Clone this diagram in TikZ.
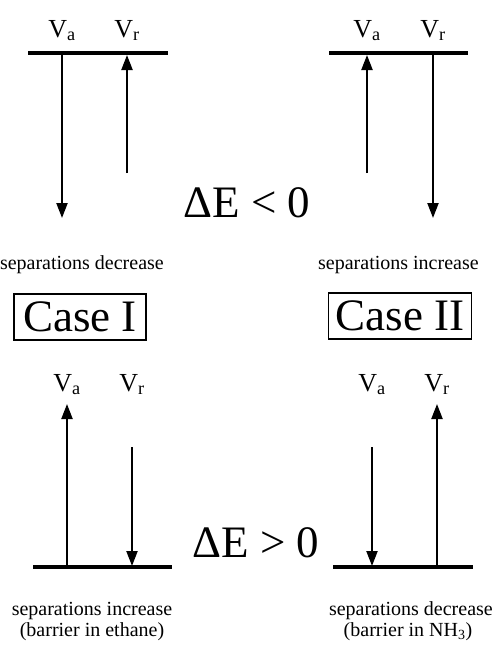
\documentclass[tikz,border=0pt]{standalone}
\usepackage{fontspec}
\setmainfont{Liberation Serif}
\usetikzlibrary{arrows.meta}

\begin{document}
\begin{tikzpicture}[
    x=1pt, y=-1pt,
    level/.style    = {line width=3.4pt},
    force/.style    = {-{Triangle[length=15pt,width=11pt]}, line width=2.2pt},
    potlabel/.style = {font=\fontsize{26}{28}\selectfont, inner sep=0pt, anchor=base},
    energy/.style   = {font=\fontsize{45}{46}\selectfont, inner sep=0pt, anchor=base},
    casebox/.style  = {draw, line width=1.4pt, font=\fontsize{45}{46}\selectfont,
                       inner sep=0pt, minimum height=46pt},
    remark/.style   = {font=\fontsize{20}{20}\selectfont, inner sep=0pt}
]
\useasboundingbox (0,0) rectangle (494,645);

% Top left (Case I, dE < 0)
\coordinate (tlL) at (28,53);   \coordinate (tlR) at (168,53);
\coordinate (tlA) at (62,53);   \coordinate (tlAend) at (62,218);
\coordinate (tlRstart) at (127,173); \coordinate (tlRend) at (127,55);
\node[potlabel] (tlVa) at (62,37)  {V\textsubscript{a}};
\node[potlabel] (tlVr) at (127,37) {V\textsubscript{r}};
\draw[level] (tlL) -- (tlR);
\draw[force] (tlA) -- (tlAend);
\draw[force] (tlRstart) -- (tlRend);

% Top right (Case II, dE < 0)
\coordinate (trL) at (329,53);  \coordinate (trR) at (468,53);
\coordinate (trAstart) at (367,173); \coordinate (trAend) at (367,55);
\coordinate (trRstart) at (433,53);  \coordinate (trRend) at (433,218);
\node[potlabel] (trVa) at (367,37) {V\textsubscript{a}};
\node[potlabel] (trVr) at (433,37) {V\textsubscript{r}};
\draw[level] (trL) -- (trR);
\draw[force] (trAstart) -- (trAend);
\draw[force] (trRstart) -- (trRend);

\node[energy] (neg) at (247,217) {ΔE < 0};
\node[remark, anchor=base east] (tlText) at (164,269) {separations decrease};
\node[remark, anchor=base west] (trText) at (318,269) {separations increase};

% Case boxes
\node[casebox, minimum width=132pt] (caseI)  at (80,317)  {Case I};
\node[casebox, minimum width=143pt] (caseII) at (400,316) {Case II};

% Bottom left (Case I, dE > 0)
\coordinate (blL) at (33,567);  \coordinate (blR) at (172,567);
\coordinate (blAstart) at (67,567);  \coordinate (blAend) at (67,404);
\coordinate (blRstart) at (132,447); \coordinate (blRend) at (132,566);
\node[potlabel] (blVa) at (67,391)  {V\textsubscript{a}};
\node[potlabel] (blVr) at (132,391) {V\textsubscript{r}};
\draw[level] (blL) -- (blR);
\draw[force] (blAstart) -- (blAend);
\draw[force] (blRstart) -- (blRend);

% Bottom right (Case II, dE > 0)
\coordinate (brL) at (333,567); \coordinate (brR) at (473,567);
\coordinate (brAstart) at (372,447); \coordinate (brAend) at (372,566);
\coordinate (brRstart) at (437,567); \coordinate (brRend) at (437,404);
\node[potlabel] (brVa) at (372,391) {V\textsubscript{a}};
\node[potlabel] (brVr) at (437,391) {V\textsubscript{r}};
\draw[level] (brL) -- (brR);
\draw[force] (brAstart) -- (brAend);
\draw[force] (brRstart) -- (brRend);

\node[energy] (pos) at (256,557) {ΔE > 0};
\node[remark, anchor=base] (blText)  at (92,615)  {separations increase};
\node[remark, anchor=base] (blNote)  at (92,636)  {(barrier in ethane)};
\node[remark, anchor=base east] (brText) at (493,615) {separations decrease};
\node[remark, anchor=base] (brNote)  at (408,636) {(barrier in NH\textsubscript{3})};

\end{tikzpicture}
\end{document}
